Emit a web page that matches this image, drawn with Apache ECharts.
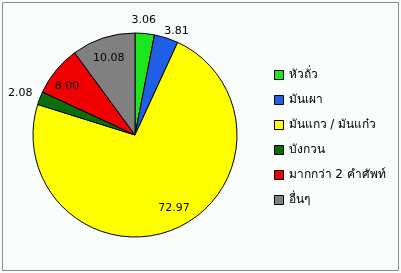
<!DOCTYPE html>
<html><head><meta charset="utf-8">
<script src="https://cdn.jsdelivr.net/npm/echarts@6/dist/echarts.min.js"></script>
<style>html,body{margin:0;padding:0;background:#fff}#c{width:401px;height:273px}</style>
</head><body><div id="c"></div>
<script>
const categories = ['หัวถั่ว', 'มันเผา', 'มันแกว / มันแก๋ว', 'บังกวน', 'มากกว่า 2 คำศัพท์', 'อื่นๆ'];
const values = [3.06, 3.81, 72.97, 2.08, 8.00, 10.08];
const colors = ['#1EE61E', '#1F5FE6', '#FFFF00', '#0B6E0B', '#F00000', '#808080'];
const insideLabel = [false, false, true, false, true, true];

// small per-label nudges (layout only)
const labelNudge = [[-3, 7], [4, 12], [5, -4], [-1, 2], [-3, 4], [0, 3]];

const FONT = 'DejaVu Sans, Noto Sans, sans-serif';
const chart = echarts.init(document.getElementById('c'), null, {renderer: 'canvas'});
const R = 102;
function labelData(showFn) {
  return categories.map((n, i) => ({
    name: n, value: values[i],
    itemStyle: {color: 'rgba(0,0,0,0)', borderWidth: 0},
    label: {show: showFn(i), offset: labelNudge[i]}
  }));
}
chart.setOption({
  backgroundColor: '#F8FCFA',
  animation: false,
  graphic: [{type: 'rect', shape: {x: 2.5, y: 2.5, width: 396, height: 268}, style: {fill: 'none', stroke: '#8C8C8C', lineWidth: 1}, silent: true}],
  legend: {
    orient: 'vertical', left: 274, top: 68, padding: 0,
    itemWidth: 9, itemHeight: 9, itemGap: 11,
    icon: 'rect',
    itemStyle: {borderColor: '#000', borderWidth: 1},
    textStyle: {fontFamily: FONT, fontSize: 12, color: '#000', lineHeight: 14},
    data: categories
  },
  series: [
    {
      type: 'pie', center: [135, 135], radius: [0, R], startAngle: 90, clockwise: true,
      avoidLabelOverlap: false, silent: true,
      label: {show: false}, labelLine: {show: false},
      itemStyle: {borderColor: '#000', borderWidth: 1},
      data: categories.map((n, i) => ({name: n, value: values[i], itemStyle: {color: colors[i]}}))
    },
    {
      type: 'pie', center: [135, 135], radius: [0, 2 * 81], startAngle: 90, clockwise: true,
      avoidLabelOverlap: false, silent: true, legendHoverLink: false,
      label: {position: 'inside', formatter: p => p.value.toFixed(2), fontFamily: FONT, fontSize: 11, color: '#000'},
      labelLine: {show: false},
      data: labelData(i => insideLabel[i])
    },
    {
      type: 'pie', center: [135, 135], radius: [0, 2 * 119], startAngle: 90, clockwise: true,
      avoidLabelOverlap: false, silent: true, legendHoverLink: false,
      label: {position: 'inside', formatter: p => p.value.toFixed(2), fontFamily: FONT, fontSize: 11, color: '#000'},
      labelLine: {show: false},
      data: labelData(i => !insideLabel[i])
    }
  ]
});
</script></body></html>
